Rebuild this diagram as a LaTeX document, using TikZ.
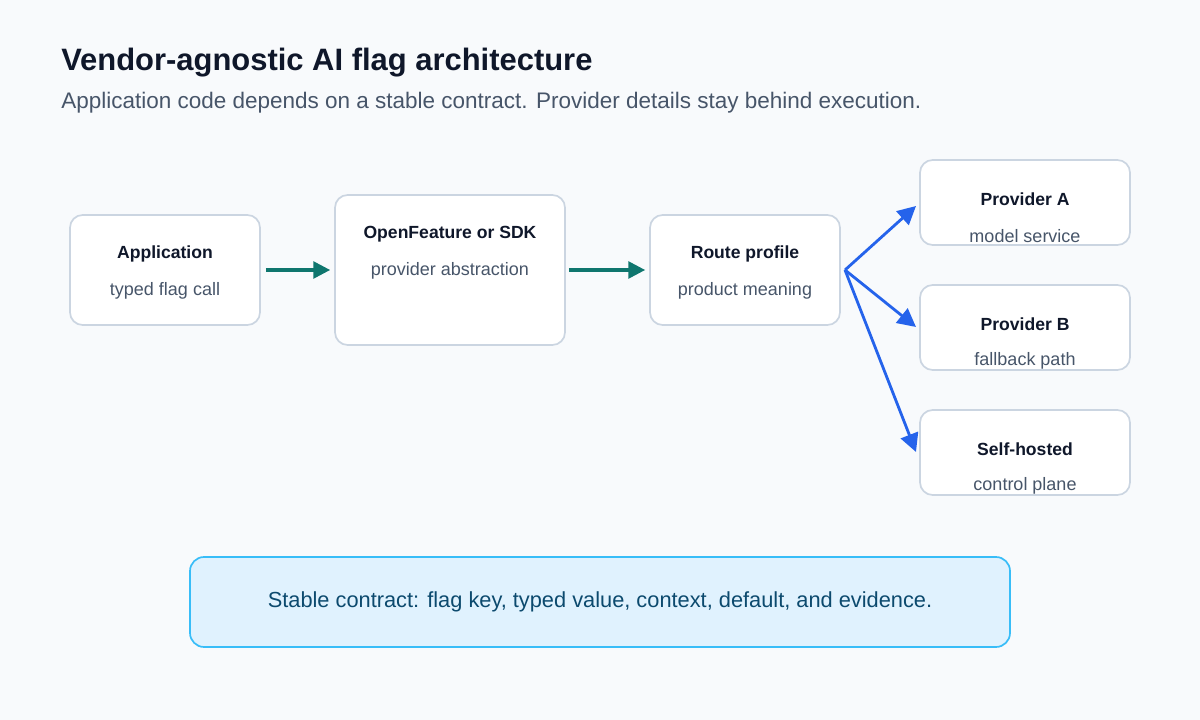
\documentclass[tikz,border=0pt]{standalone}
\usepackage{fontspec}
\setmainfont{Liberation Sans}
\usetikzlibrary{positioning,arrows.meta}
\definecolor{bgc}{HTML}{F8FAFC}
\definecolor{edge}{HTML}{CBD5E1}
\definecolor{ink}{HTML}{0F172A}
\definecolor{muted}{HTML}{475569}
\definecolor{teal}{HTML}{0F766E}
\definecolor{blue}{HTML}{2563EB}
\definecolor{notefill}{HTML}{E0F2FE}
\definecolor{noteedge}{HTML}{38BDF8}
\definecolor{noteink}{HTML}{0C4A6E}
\tikzset{
  box/.style={draw=edge, line width=1.2pt, fill=white, rounded corners=9pt, inner sep=0pt},
  head/.style={font=\fontsize{12.5}{14}\selectfont\bfseries, text=ink, inner sep=0pt},
  sub/.style={font=\fontsize{12.8}{14}\selectfont, text=muted, inner sep=0pt},
  flow/.style={-{Triangle[length=12pt,width=12pt]}, line width=2.2pt, teal},
  route/.style={-{Triangle[length=13pt,width=13pt]}, line width=2pt, blue}
}
\begin{document}
\begin{tikzpicture}[x=0.025cm, y=-0.025cm, node distance=0]
  \fill[bgc] (0,0) rectangle (1200,720);
  \useasboundingbox (0,0) rectangle (1200,720);

  \node[anchor=west, font=\fontsize{22}{24}\selectfont\bfseries, text=ink, inner sep=0pt] (title) at (61,63) {Vendor-agnostic AI flag architecture};
  \node[anchor=west, font=\fontsize{16}{18}\selectfont, text=muted, inner sep=0pt] (subtitle) at (61,103) {Application code depends on a stable contract. Provider details stay behind execution.};

  % boxes
  \node[box, minimum width=190*0.025cm, minimum height=110*0.025cm] (app) at (165,270) {};
  \node[box, minimum width=230*0.025cm, minimum height=150*0.025cm] (sdk) at (450,270) {};
  \node[box, minimum width=190*0.025cm, minimum height=110*0.025cm] (prof) at (745,270) {};
  \node[box, minimum width=210*0.025cm, minimum height=85*0.025cm] (pa) at (1025,202.5) {};
  \node[box, minimum width=210*0.025cm, minimum height=85*0.025cm] (pb) at (1025,327.5) {};
  \node[box, minimum width=210*0.025cm, minimum height=85*0.025cm] (sh) at (1025,452.5) {};

  % texts
  \node[head] (appH) at (165,254) {Application};
  \node[sub]  (appS) at (165,291) {typed flag call};
  \node[head] (sdkH) at (450,234) {OpenFeature or SDK};
  \node[sub]  (sdkS) at (450,271) {provider abstraction};
  \node[head] (profH) at (745,254) {Route profile};
  \node[sub]  (profS) at (745,291) {product meaning};
  \node[head] (paH) at (1025,199) {Provider A};
  \node[sub]  (paS) at (1025,236) {model service};
  \node[head] (pbH) at (1025,324) {Provider B};
  \node[sub]  (pbS) at (1025,361) {fallback path};
  \node[head] (shH) at (1025,449) {Self-hosted};
  \node[sub]  (shS) at (1025,486) {control plane};

  % connectors
  \draw[flow] ([xshift=5*0.025cm]app.east) -- ([xshift=-4*0.025cm]sdk.west);
  \draw[flow] ([xshift=3*0.025cm]sdk.east) -- ([xshift=-4*0.025cm]prof.west);
  \coordinate (fork) at (845,270);
  \draw[route] (fork) -- (916,206);
  \draw[route] (fork) -- (916,327);
  \draw[route] (fork) -- (916,452);

  % contract note
  \node[draw=noteedge, fill=notefill, line width=1.2pt, rounded corners=10pt,
        minimum width=820*0.025cm, minimum height=90*0.025cm,
        font=\fontsize{15.5}{17}\selectfont, text=noteink] (note) at (600,602)
        {Stable contract: flag key, typed value, context, default, and evidence.};
\end{tikzpicture}
\end{document}
